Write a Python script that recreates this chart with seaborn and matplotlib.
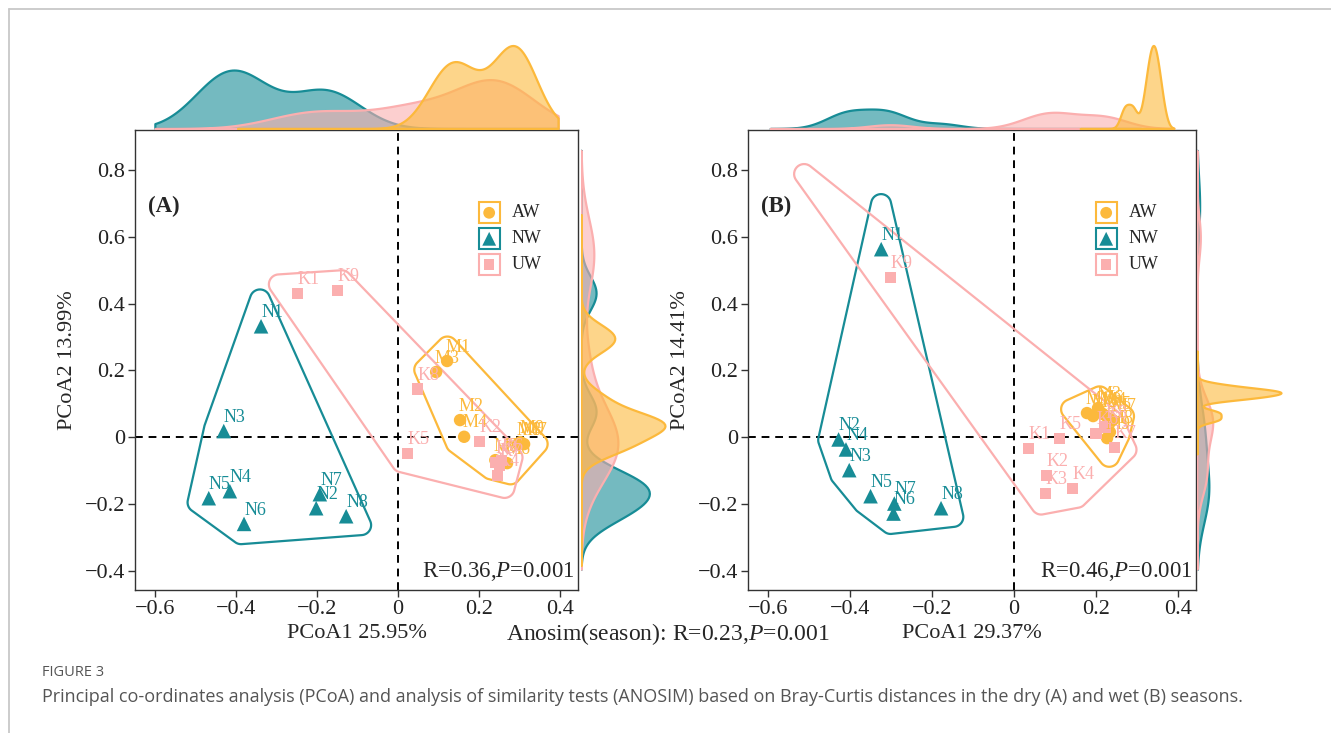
import numpy as np
import pandas as pd
import matplotlib
matplotlib.use("Agg")
import matplotlib.pyplot as plt
from matplotlib.patches import Polygon, Rectangle
from matplotlib.lines import Line2D
from matplotlib.ticker import FuncFormatter
import seaborn as sns

# group styling
groups = ["AW", "NW", "UW"]
colors = {"AW": "#FCB93C", "NW": "#178C96", "UW": "#FBAFAF"}
markers = {"AW": "o", "NW": "^", "UW": "s"}
sizes = {"AW": 80, "NW": 110, "UW": 65}

# ---- panel A (dry season) ----
aw_a_lab = ["M1", "M2", "M3", "M4", "M5", "M6", "M7", "M8", "M9"]
aw_a_x = [0.121, 0.153, 0.094, 0.163, 0.240, 0.269, 0.311, 0.296, 0.302]
aw_a_y = [0.228, 0.051, 0.195, 0.001, -0.069, -0.078, -0.021, -0.021, -0.015]

nw_a_lab = ["N1", "N2", "N3", "N4", "N5", "N6", "N7", "N8"]
nw_a_x = [-0.338, -0.202, -0.430, -0.415, -0.467, -0.380, -0.193, -0.128]
nw_a_y = [0.332, -0.213, 0.018, -0.162, -0.183, -0.260, -0.171, -0.237]

uw_a_lab = ["K1", "K2", "K3", "K4", "K5", "K6", "K7", "K8", "K9"]
uw_a_x = [-0.249, 0.200, 0.240, 0.245, 0.024, 0.255, 0.250, 0.048, -0.149]
uw_a_y = [0.431, -0.014, -0.075, -0.116, -0.049, -0.070, -0.085, 0.144, 0.439]

# ---- panel B (wet season) ----
aw_b_lab = ["M1", "M2", "M3", "M4", "M5", "M6", "M7", "M8", "M9"]
aw_b_x = [0.178, 0.193, 0.205, 0.217, 0.229, 0.210, 0.241, 0.234, 0.227]
aw_b_y = [0.072, 0.063, 0.087, 0.069, 0.057, 0.075, 0.051, 0.015, -0.003]

nw_b_lab = ["N1", "N2", "N3", "N4", "N5", "N6", "N7", "N8"]
nw_b_x = [-0.324, -0.428, -0.402, -0.410, -0.350, -0.294, -0.292, -0.178]
nw_b_y = [0.563, -0.007, -0.099, -0.037, -0.177, -0.229, -0.199, -0.213]

uw_b_lab = ["K1", "K2", "K3", "K4", "K5", "K6", "K7", "K8", "K9"]
uw_b_x = [0.035, 0.080, 0.077, 0.142, 0.111, 0.200, 0.245, 0.222, -0.302]
uw_b_y = [-0.034, -0.114, -0.169, -0.154, -0.004, 0.010, -0.031, 0.030, 0.479]
# unlabelled UW sample that only shows in the hull outline
uw_b_hidden_x = [-0.39]
uw_b_hidden_y = [0.63]

# AW x values as drawn in the top marginal density of panel B
aw_b_margin_x = [0.27, 0.29, 0.32, 0.33, 0.335, 0.34, 0.345, 0.35, 0.36]

stats_a = "R=0.36,$P$=0.001"
stats_b = "R=0.46,$P$=0.001"
xlab_a, ylab_a = "PCoA1 25.95%", "PCoA2 13.99%"
xlab_b, ylab_b = "PCoA1 29.37%", "PCoA2 14.41%"

sns.set_style("ticks")
plt.rcParams["font.family"] = ["Liberation Serif", "DejaVu Serif"]
plt.rcParams["mathtext.fontset"] = "custom"
plt.rcParams["mathtext.rm"] = "Liberation Serif"
plt.rcParams["mathtext.it"] = "Liberation Serif:italic"

W, H = 1331, 733
fig = plt.figure(figsize=(W / 100, H / 100), dpi=100)


def px_box(left, top, right, bottom):
    return [left / W, 1 - bottom / H, (right - left) / W, (bottom - top) / H]


def fmt(v, pos):
    if abs(v) < 1e-9:
        return "0"
    return f"{v:.1f}".replace("-", "\u2212")


def nrd0_adjust(v):
    # R's bw.nrd0 expressed relative to scipy's scott bandwidth
    v = np.asarray(v)
    sd = v.std(ddof=1)
    iqr = np.subtract(*np.percentile(v, [75, 25]))
    return 0.9 * min(sd, iqr / 1.34) / sd


def hull_outline(ax, xs, ys, expand=20, radius=10):
    # convex hull in pixel space, mitered offset then rounded corners
    pts = ax.transData.transform(np.column_stack([xs, ys]))
    pts = sorted(set(map(tuple, np.round(pts, 3))))

    def cross(o, a, b):
        return (a[0] - o[0]) * (b[1] - o[1]) - (a[1] - o[1]) * (b[0] - o[0])

    lower, upper = [], []
    for p in pts:
        while len(lower) >= 2 and cross(lower[-2], lower[-1], p) <= 0:
            lower.pop()
        lower.append(p)
    for p in reversed(pts):
        while len(upper) >= 2 and cross(upper[-2], upper[-1], p) <= 0:
            upper.pop()
        upper.append(p)
    hull = np.array(lower[:-1] + upper[:-1])
    n = len(hull)
    d = expand - radius
    out = []
    for i in range(n):
        p0, p1, p2 = hull[i - 1], hull[i], hull[(i + 1) % n]
        e1, e2 = p1 - p0, p2 - p1
        n1 = np.array([e1[1], -e1[0]]) / np.hypot(*e1)
        n2 = np.array([e2[1], -e2[0]]) / np.hypot(*e2)
        c = p1 + d * (n1 + n2) / (1 + n1 @ n2)
        a1, a2 = np.arctan2(n1[1], n1[0]), np.arctan2(n2[1], n2[0])
        if a2 < a1:
            a2 += 2 * np.pi
        for a in np.linspace(a1, a2, 16):
            out.append(c + radius * np.array([np.cos(a), np.sin(a)]))
    return ax.transData.inverted().transform(np.array(out))


def draw_panel(box, top_box, right_box, data, hidden, margin_x, tag, stats,
               xlab, ylab, top_clip):
    ax = fig.add_axes(px_box(*box))
    ax.set_xlim(-0.649, 0.444)
    ax.set_ylim(-0.458, 0.92)
    ax.axvline(0, color="black", ls=(0, (4, 3)), lw=1.4, zorder=1)
    ax.axhline(0, color="black", ls=(0, (4, 3)), lw=1.4, zorder=1)

    for g in groups:
        lab, xs, ys = data[g]
        df = pd.DataFrame({"x": xs, "y": ys})
        hx, hy = list(xs), list(ys)
        if g in hidden:
            hx += hidden[g][0]
            hy += hidden[g][1]
        poly = hull_outline(ax, hx, hy)
        ax.add_patch(Polygon(poly, closed=True, fill=False, edgecolor=colors[g],
                             lw=1.6, zorder=2))
        sns.scatterplot(data=df, x="x", y="y", ax=ax, color=colors[g],
                        marker=markers[g], s=sizes[g], edgecolor="none",
                        zorder=3, legend=False)
        for t, x, y in zip(lab, xs, ys):
            ax.annotate(t, (x, y), xytext=(8, 10), textcoords="offset points",
                        ha="center", va="center", fontsize=13,
                        color=colors[g], zorder=4)

    ax.set_xticks([-0.6, -0.4, -0.2, 0, 0.2, 0.4])
    ax.set_yticks([-0.4, -0.2, 0, 0.2, 0.4, 0.6, 0.8])
    ax.xaxis.set_major_formatter(FuncFormatter(fmt))
    ax.yaxis.set_major_formatter(FuncFormatter(fmt))
    ax.tick_params(labelsize=16, length=5, width=1, color="#333333",
                   labelcolor="#222222", pad=2)
    for s in ax.spines.values():
        s.set_visible(True)
        s.set_color("#333333")
        s.set_linewidth(1)
    ax.set_xlabel(xlab, fontsize=16, labelpad=4)
    ax.set_ylabel(ylab, fontsize=16, labelpad=6)

    ax.text(0.03, 0.833, tag, transform=ax.transAxes, fontsize=16.5,
            fontweight="bold", ha="left", va="center")
    ax.text(0.993, 0.04, stats, transform=ax.transAxes, fontsize=16.5,
            ha="right", va="center")

    # manual legend with outlined keys
    for i, g in enumerate(groups):
        yb = 0.797 - i * 0.0565
        ax.add_patch(Rectangle((0.776, yb), 0.047, 0.046, transform=ax.transAxes,
                               fill=False, edgecolor=colors[g], lw=1.5, zorder=5))
        ax.scatter([0.7995], [yb + 0.023], transform=ax.transAxes,
                   marker=markers[g], s=sizes[g] * 0.9, color=colors[g],
                   edgecolor="none", zorder=6, clip_on=False)
        ax.text(0.85, yb + 0.023, g, transform=ax.transAxes, fontsize=13,
                ha="left", va="center")

    # top marginal density
    axt = fig.add_axes(px_box(*top_box))
    axt.set_xlim(ax.get_xlim())
    for g in ["NW", "UW", "AW"]:
        xs = margin_x if (g == "AW" and margin_x is not None) else data[g][1]
        sns.kdeplot(x=xs, ax=axt, fill=True, color=colors[g], alpha=0.6,
                    linewidth=1.6, bw_adjust=nrd0_adjust(xs), clip=top_clip, cut=10)
    peak = max(p.vertices[:, 1].max() for c in axt.collections for p in c.get_paths())
    axt.set_ylim(0, peak * (top_box[3] - top_box[1]) / 83)
    axt.set_axis_off()

    # right marginal density
    axr = fig.add_axes(px_box(*right_box))
    axr.set_ylim(-0.455, 0.764)
    for g in ["NW", "UW", "AW"]:
        ys = data[g][2]
        sns.kdeplot(y=ys, ax=axr, fill=True, color=colors[g], alpha=0.6,
                    linewidth=1.6, bw_adjust=nrd0_adjust(ys), clip=(-0.40, 0.71), cut=10)
    peak = max(p.vertices[:, 0].max() for c in axr.collections for p in c.get_paths())
    axr.set_xlim(0, peak * (right_box[2] - right_box[0]) / 84)
    axr.set_axis_off()
    return ax


data_a = {"AW": (aw_a_lab, aw_a_x, aw_a_y),
          "NW": (nw_a_lab, nw_a_x, nw_a_y),
          "UW": (uw_a_lab, uw_a_x, uw_a_y)}
data_b = {"AW": (aw_b_lab, aw_b_x, aw_b_y),
          "NW": (nw_b_lab, nw_b_x, nw_b_y),
          "UW": (uw_b_lab, uw_b_x, uw_b_y)}

draw_panel((135, 130, 578, 590), (135, 38, 578, 128.5), (581, 130, 681, 590),
           data_a, {}, None, "(A)", stats_a, xlab_a, ylab_a, (-0.6, 0.395))
draw_panel((748, 130, 1196, 590), (748, 38, 1196, 128.5), (1197, 130, 1297, 590),
           data_b, {"UW": (uw_b_hidden_x, uw_b_hidden_y)}, aw_b_margin_x,
           "(B)", stats_b, xlab_b, ylab_b, (-0.595, 0.39))

fig.text(668 / W, 1 - 634 / H, "Anosim(season): R=0.23,$P$=0.001",
         fontsize=17, ha="center", va="center")

# figure frame and caption
fig.add_artist(Line2D([9 / W, 1], [1 - 9 / H, 1 - 9 / H], transform=fig.transFigure,
                      color="#C8C8C8", lw=1.3))
fig.add_artist(Line2D([9 / W, 9 / W], [0, 1 - 9 / H], transform=fig.transFigure,
                      color="#C8C8C8", lw=1.3))
fig.text(42 / W, 1 - 672 / H, "FIGURE 3", fontsize=10.5, color="#555555",
         family="Open Sans", ha="left", va="center")
fig.text(42 / W, 1 - 697 / H,
         "Principal co-ordinates analysis (PCoA) and analysis of similarity tests "
         "(ANOSIM) based on Bray-Curtis distances in the dry (A) and wet (B) seasons.",
         fontsize=13, color="#555555", family="Open Sans", ha="left", va="center")

fig.savefig("out.png", dpi=100)
